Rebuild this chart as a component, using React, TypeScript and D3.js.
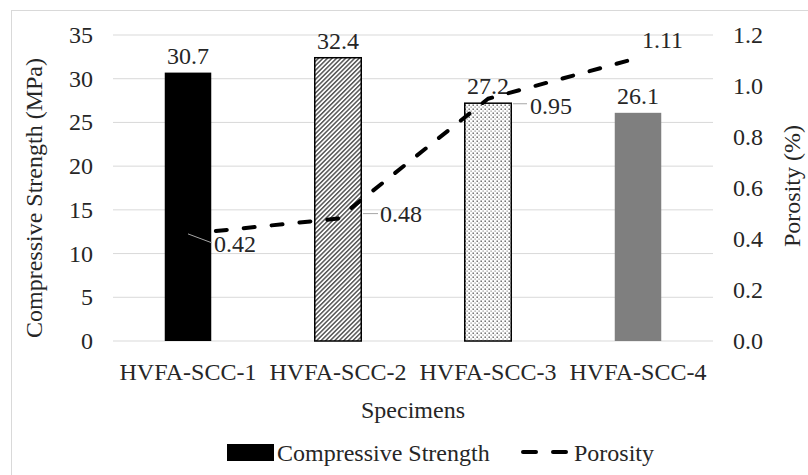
import React from "react";
import * as d3 from "d3";

const categories = ["HVFA-SCC-1", "HVFA-SCC-2", "HVFA-SCC-3", "HVFA-SCC-4"];
const strength = [30.7, 32.4, 27.2, 26.1];
const porosity = [0.42, 0.48, 0.95, 1.11];
const leftTicks = [0, 5, 10, 15, 20, 25, 30, 35];
const rightTicks = [0, 0.2, 0.4, 0.6, 0.8, 1.0, 1.2];

const W = 808,
  H = 475;
const plot = { left: 113, right: 713, top: 35, bottom: 341 };
const fs = 24;
const txt: React.CSSProperties = {
  fontFamily:
    '"Liberation Serif", "Times New Roman", Times, Tinos, "DejaVu Serif", "Noto Serif", FreeSerif, serif',
  fontSize: fs,
  fill: "#262626",
};

const barFills = ["#000000", "url(#hatch)", "url(#dots)", "#7f7f7f"];
const barStroke = ["none", "#000", "#000", "none"];

// where each porosity label sits relative to its point (dx, dy), and leader segment
const porLabel = [
  { dx: 26, dy: 10, leader: [0, 0, 24, 9] },
  { dx: 42, dy: -5, leader: [25, -5, 40, -5] },
  { dx: 42, dy: 7, leader: [25, 5, 39, 5] },
  { dx: 4, dy: -18, leader: null as null | number[] },
];

export default function App() {
  const x = d3
    .scaleBand<string>()
    .domain(categories)
    .range([plot.left, plot.right])
    .padding(0);
  const yL = d3.scaleLinear().domain([0, 35]).range([plot.bottom, plot.top]);
  const yR = d3.scaleLinear().domain([0, 1.2]).range([plot.bottom, plot.top]);
  const barW = x.bandwidth() * 0.31;
  const cx = (c: string) => (x(c) as number) + x.bandwidth() / 2;

  const line = d3
    .line<number>()
    .x((d, i) => cx(categories[i]))
    .y((d) => yR(d));

  return (
    <svg
      width={W}
      height={H}
      style={{ position: "absolute", left: 0, top: 0, background: "#fff" }}
    >
      <defs>
        <pattern
          id="hatch"
          width={3.2}
          height={3.2}
          patternUnits="userSpaceOnUse"
          patternTransform="rotate(45)"
        >
          <rect width={3.2} height={3.2} fill="#fff" />
          <rect width={1.5} height={3.2} fill="#555" />
        </pattern>
        <pattern id="dots" width={4} height={4} patternUnits="userSpaceOnUse">
          <rect width={4} height={4} fill="#fff" />
          <rect x={0.5} y={0.5} width={1.4} height={1.4} fill="#555" />
          <rect x={2.5} y={2.5} width={1.2} height={1.2} fill="#888" />
        </pattern>
      </defs>
      <rect x={0} y={0} width={W} height={H} fill="#fff" />
      <rect x={11.5} y={10.5} width={W} height={H} fill="none" stroke="#d9d9d9" />

      {/* gridlines */}
      {leftTicks.map((t) => (
        <line
          key={t}
          x1={plot.left}
          x2={plot.right}
          y1={yL(t)}
          y2={yL(t)}
          stroke="#d9d9d9"
          strokeWidth={1}
        />
      ))}

      {/* left axis */}
      {leftTicks.map((t) => (
        <text key={t} x={93} y={yL(t)} textAnchor="end" dominantBaseline="central" style={txt}>
          {t}
        </text>
      ))}
      {/* right axis */}
      {rightTicks.map((t) => (
        <text key={t} x={733} y={yR(t)} dominantBaseline="central" style={txt}>
          {t.toFixed(1)}
        </text>
      ))}

      <text
        transform={`translate(34,${(plot.top + plot.bottom) / 2 + 10}) rotate(-90)`}
        textAnchor="middle"
        dominantBaseline="central"
        style={txt}
      >
        Compressive Strength (MPa)
      </text>
      <text
        transform={`translate(792,186) rotate(-90)`}
        textAnchor="middle"
        dominantBaseline="central"
        style={txt}
      >
        Porosity (%)
      </text>

      {/* bars */}
      {categories.map((c, i) => (
        <rect
          key={c}
          x={cx(c) - barW / 2}
          y={yL(strength[i])}
          width={barW}
          height={yL(0) - yL(strength[i])}
          fill={barFills[i]}
          stroke={barStroke[i]}
          strokeWidth={1.5}
        />
      ))}
      {categories.map((c, i) => (
        <text
          key={c}
          x={cx(c)}
          y={yL(strength[i]) - 17}
          textAnchor="middle"
          dominantBaseline="central"
          style={txt}
        >
          {strength[i]}
        </text>
      ))}

      {/* category labels */}
      {categories.map((c) => (
        <text key={c} x={cx(c)} y={372} textAnchor="middle" dominantBaseline="central" style={txt}>
          {c}
        </text>
      ))}
      <text
        x={(plot.left + plot.right) / 2}
        y={410}
        textAnchor="middle"
        dominantBaseline="central"
        style={txt}
      >
        Specimens
      </text>

      {/* porosity line */}
      <path
        d={line(porosity) || ""}
        fill="none"
        stroke="#000"
        strokeWidth={4}
        strokeDasharray="11,17"
        strokeLinecap="round"
        strokeLinejoin="round"
      />
      {porosity.map((p, i) => {
        const px = cx(categories[i]);
        const py = yR(p);
        const l = porLabel[i];
        return (
          <g key={i}>
            {l.leader && (
              <line
                x1={px + l.leader[0]}
                y1={py + l.leader[1]}
                x2={px + l.leader[2]}
                y2={py + l.leader[3]}
                stroke="#a6a6a6"
                strokeWidth={1}
              />
            )}
            <text x={px + l.dx} y={py + l.dy} dominantBaseline="central" style={txt}>
              {p.toFixed(2)}
            </text>
          </g>
        );
      })}

      {/* legend */}
      <rect x={227} y={444} width={47} height={17} fill="#000" />
      <text x={277} y={453} dominantBaseline="central" style={txt}>
        Compressive Strength
      </text>
      <line
        x1={523}
        x2={570}
        y1={452}
        y2={452}
        stroke="#000"
        strokeWidth={4}
        strokeDasharray="13,17"
        strokeLinecap="round"
      />
      <text x={574} y={453} dominantBaseline="central" style={txt}>
        Porosity
      </text>
    </svg>
  );
}
